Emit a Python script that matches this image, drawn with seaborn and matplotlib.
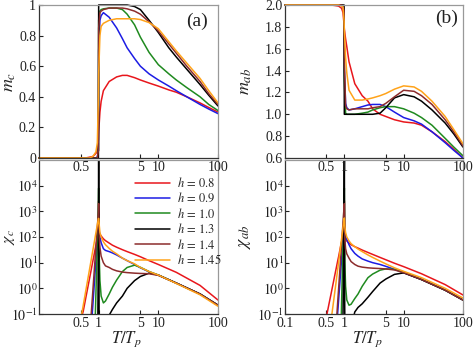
import matplotlib
matplotlib.use("Agg")
import matplotlib.pyplot as plt
from matplotlib.lines import Line2D
from matplotlib.ticker import NullLocator
import pandas as pd
import seaborn as sns

# ---------------- data ----------------
h_labels = ["0.8", "0.9", "1.0", "1.3", "1.4", "1.45"]
colors = ["#e8161c", "#1c1ce4", "#1f8a1f", "#000000", "#8c2c2c", "#ffa31a"]

# temperature grid for magnetisation panels (T/Tp)
T_m = [0.1, 0.5, 0.6, 0.7, 0.8, 0.9, 0.95, 0.99, 1.0, 1.05, 1.1, 1.2, 1.5, 2, 2.5,
       3, 4, 5, 7, 10, 15, 20, 30, 50, 70, 100]

mc_08 = [0, 0, 0, 0.005, 0.01, 0.03, 0.05, 0.12, 0.17, 0.30, 0.37, 0.44, 0.50, 0.53,
         0.54, 0.54, 0.525, 0.51, 0.49, 0.47, 0.445, 0.43, 0.40, 0.36, 0.33, 0.30]
mc_09 = [0, 0, 0, 0, 0, 0, 0.005, 0.05, 0.70, 0.90, 0.93, 0.95, 0.92, 0.85, 0.78,
         0.72, 0.65, 0.60, 0.55, 0.51, 0.47, 0.44, 0.40, 0.35, 0.32, 0.29]
mc_10 = [0, 0, 0, 0, 0, 0, 0, 0.05, 0.90, 0.96, 0.97, 0.975, 0.98, 0.98, 0.97,
         0.94, 0.87, 0.79, 0.69, 0.61, 0.55, 0.51, 0.46, 0.40, 0.35, 0.31]
mc_13 = [0, 0, 0, 0, 0, 0, 0, 0, 1.0, 1.0, 1.0, 1.0, 1.0, 1.0, 1.0,
         1.0, 0.99, 0.97, 0.90, 0.82, 0.72, 0.66, 0.58, 0.48, 0.41, 0.34]
mc_14 = [0, 0, 0, 0, 0, 0, 0, 0.05, 0.85, 0.95, 0.96, 0.97, 0.98, 0.98, 0.98,
         0.975, 0.96, 0.94, 0.89, 0.83, 0.745, 0.685, 0.60, 0.50, 0.42, 0.35]
mc_145 = [0, 0, 0, 0, 0.01, 0.04, 0.10, 0.40, 0.55, 0.80, 0.86, 0.88, 0.90, 0.91, 0.91,
          0.91, 0.91, 0.905, 0.885, 0.845, 0.76, 0.70, 0.62, 0.52, 0.44, 0.36]

mab_08 = [2.0, 2.0, 2.0, 1.995, 1.99, 1.97, 1.93, 1.82, 1.78, 1.69, 1.62, 1.48, 1.28,
          1.17, 1.12, 1.05, 1.0, 0.98, 0.95, 0.93, 0.92, 0.90, 0.84, 0.75, 0.68, 0.60]
mab_09 = [2.0, 2.0, 2.0, 2.0, 2.0, 2.0, 1.99, 1.95, 1.40, 1.10, 1.06, 1.04, 1.05,
          1.07, 1.085, 1.09, 1.09, 1.07, 1.02, 0.97, 0.94, 0.91, 0.84, 0.74, 0.67, 0.60]
mab_10 = [2.0, 2.0, 2.0, 2.0, 2.0, 2.0, 1.99, 1.95, 1.30, 1.01, 1.0, 1.0, 1.0,
          1.01, 1.02, 1.04, 1.06, 1.07, 1.07, 1.05, 1.01, 0.97, 0.90, 0.78, 0.70, 0.62]
mab_13 = [2.0, 2.0, 2.0, 2.0, 2.0, 2.0, 2.0, 2.0, 1.0, 1.0, 1.0, 1.0, 1.0,
          1.0, 1.0, 1.0, 1.01, 1.06, 1.15, 1.18, 1.16, 1.12, 1.04, 0.92, 0.82, 0.70]
mab_14 = [2.0, 2.0, 2.0, 2.0, 2.0, 2.0, 1.99, 1.95, 1.50, 1.08, 1.05, 1.04, 1.05,
          1.05, 1.05, 1.06, 1.07, 1.10, 1.16, 1.22, 1.21, 1.17, 1.09, 0.95, 0.84, 0.71]
mab_145 = [2.0, 2.0, 2.0, 2.0, 2.0, 1.99, 1.98, 1.85, 1.77, 1.52, 1.38, 1.22, 1.13,
           1.13, 1.14, 1.15, 1.17, 1.19, 1.23, 1.26, 1.25, 1.21, 1.12, 0.98, 0.86, 0.73]

# temperature grid for susceptibility panels
T_x = [0.1, 0.5, 0.52, 0.55, 0.6, 0.7, 0.75, 0.78, 0.8, 0.86, 0.88, 0.9, 0.95, 0.97,
       0.99, 1.0, 1.01, 1.02, 1.05, 1.1, 1.2, 1.3, 1.5, 1.7, 2, 2.5, 3, 4, 5, 7, 10,
       20, 50, 100]

xc_08 = [0.001, 0.05, 0.08, 0.125, 0.36, 2.3, 5.3, 8.6, 11.6, 28, 37, 48, 93, 120, 150,
         2500, 400, 150, 130, 110, 85, 72, 58, 48, 40, 32, 27, 21, 17, 12, 8.5, 4.2, 1.3, 0.35]
xc_09 = [0.001, 0.001, 0.001, 0.001, 0.001, 0.01, 0.04, 0.1, 0.23, 2.7, 5.7, 12, 75, 150,
         300, 400, 250, 180, 100, 60, 35, 30, 27, 24, 20, 15, 12, 8.5, 6.3, 4.4, 3.25,
         1.6, 0.6, 0.22]
xc_10 = [0.001, 0.001, 0.001, 0.001, 0.001, 0.001, 0.001, 0.001, 0.001, 0.05, 0.1, 0.66,
         62, 357, 2000, 8000, 200, 20, 2, 0.5, 0.27, 0.32, 0.6, 1.1, 2.1, 4.5, 6.5, 8,
         6.6, 4.5, 3.3, 1.6, 0.6, 0.22]
xc_13 = [0.001, 0.001, 0.001, 0.001, 0.001, 0.001, 0.001, 0.001, 0.001, 0.001, 0.001,
         0.001, 0.01, 0.1, 50, 1e6, 10, 0.01, 0.001, 0.001, 0.001, 0.02, 0.09, 0.15,
         0.27, 0.5, 1.0, 2.0, 2.9, 3.9, 3.3, 1.6, 0.6, 0.22]
xc_14 = [0.001, 0.001, 0.001, 0.001, 0.001, 0.02, 0.1, 0.36, 0.84, 9.2, 19.5, 41, 244,
         487, 950, 2000, 300, 100, 40, 18, 10, 7.5, 6.5, 5.5, 4.8, 4.3, 4.1, 3.9, 3.8,
         3.7, 3.2, 1.6, 0.6, 0.22]
xc_145 = [0.001, 0.07, 0.1, 0.21, 0.67, 5.2, 13, 22, 31, 80, 110, 148, 302, 398, 523,
          530, 400, 300, 150, 100, 65, 50, 36, 28, 22, 15, 12, 9, 6.5, 4.5, 3.3, 1.55,
          0.56, 0.2]

xab_08 = [0.001, 0.08, 0.125, 0.24, 0.64, 3.8, 8.3, 13, 17, 40, 52, 67, 125, 158, 200,
          2600, 300, 120, 85, 70, 58, 50, 42, 37, 31, 25, 21, 16, 13, 9.5, 7, 3.7, 1.4, 0.55]
xab_09 = [0.001, 0.001, 0.001, 0.001, 0.001, 0.01, 0.045, 0.15, 0.34, 3.4, 7, 14, 80,
          154, 300, 350, 150, 110, 105, 80, 50, 35, 23, 18, 14, 11.5, 10, 8.5, 7.2, 5.5,
          4.1, 2.2, 0.85, 0.35]
xab_10 = [0.001, 0.001, 0.001, 0.001, 0.001, 0.001, 0.001, 0.001, 0.001, 0.001, 0.03,
          0.29, 55, 414, 3000, 8000, 100, 10, 1.2, 0.35, 0.22, 0.24, 0.4, 0.6, 1.2, 2.6,
          3.6, 5.1, 5.7, 5.5, 4.2, 2.2, 0.85, 0.35]
xab_13 = [0.001, 0.001, 0.001, 0.001, 0.001, 0.001, 0.001, 0.001, 0.001, 0.001, 0.001,
          0.001, 0.1, 5, 500, 1e6, 5, 0.01, 0.001, 0.001, 0.001, 0.03, 0.12, 0.18, 0.25,
          0.45, 0.75, 1.6, 2.3, 3.5, 4.0, 2.2, 0.85, 0.35]
xab_14 = [0.001, 0.001, 0.001, 0.001, 0.001, 0.01, 0.1, 0.39, 0.93, 11.4, 25, 55, 357,
          734, 1500, 2000, 200, 80, 35, 22, 15, 11, 8.5, 7.3, 6.7, 6.3, 6.1, 5.9, 5.7,
          5.2, 4.1, 2.2, 0.85, 0.35]
xab_145 = [0.001, 0.001, 0.01, 0.02, 0.06, 0.91, 3.2, 6.5, 10, 39, 59, 88, 236, 345,
           500, 550, 350, 250, 150, 100, 70, 55, 42, 34, 27, 20, 16, 11.5, 9, 6.3, 4.6,
           2.6, 1.0, 0.42]

x_ticks = [0.5, 1, 5, 10, 100]
x_ticks_d = [0.1, 0.5, 1, 5, 10, 100]
ya_ticks = [0, 0.2, 0.4, 0.6, 0.8, 1.0]
yb_ticks = [0.6, 0.8, 1.0, 1.2, 1.4, 1.6, 1.8, 2.0]
ychi_ticks = [0.1, 1, 10, 100, 1000, 10000]

# ---------------- style ----------------
sns.set_theme(style="white")
plt.rcParams["font.family"] = ["Liberation Serif", "DejaVu Serif"]
plt.rcParams["mathtext.fontset"] = "stix"

W, H = 474, 349
fig = plt.figure(figsize=(W / 100, H / 100), dpi=100)


def add_ax(l, t, r, b):
    return fig.add_axes([l / W, 1 - b / H, (r - l) / W, (b - t) / H])


ax_a = add_ax(39, 5, 218, 158)
ax_b = add_ax(285, 5, 463, 158)
ax_c = add_ax(39, 160, 218, 314)
ax_d = add_ax(285, 160, 463, 314)
ax_a.set_zorder(3)
ax_b.set_zorder(3)


def draw(ax, T, series, logy, clip=True):
    frames = [pd.DataFrame({"T": T, "v": vals, "h": lab})
              for lab, vals in zip(h_labels, series)]
    df = pd.concat(frames, ignore_index=True)
    sns.lineplot(data=df, x="T", y="v", hue="h", hue_order=h_labels,
                 palette=colors, estimator=None, sort=False, legend=False,
                 ax=ax, linewidth=1.1)
    ax.set_xscale("log")
    if logy:
        ax.set_yscale("log")
    if not clip:
        for ln in ax.lines:
            ln.set_clip_on(False)


draw(ax_a, T_m, [mc_08, mc_09, mc_10, mc_13, mc_14, mc_145], False, clip=False)
draw(ax_b, T_m, [mab_08, mab_09, mab_10, mab_13, mab_14, mab_145], False, clip=False)
draw(ax_c, T_x, [xc_08, xc_09, xc_10, xc_13, xc_14, xc_145], True)
draw(ax_d, T_x, [xab_08, xab_09, xab_10, xab_13, xab_14, xab_145], True)


def fmt(v):
    return "%g" % v


for ax in (ax_a, ax_b, ax_c, ax_d):
    ax.set_xlim(0.1, 100)
    ax.xaxis.set_minor_locator(NullLocator())
    ax.yaxis.set_minor_locator(NullLocator())
    ax.tick_params(direction="in", length=3, width=0.8, labelsize=10, pad=2,
                   colors="#222222", bottom=True, left=True)
    ax.set_xlabel("")
    ax.set_ylabel("")
    ax.set_facecolor("white")
    for s in ("left", "bottom"):
        ax.spines[s].set_color("#333333")
        ax.spines[s].set_linewidth(0.9)
    for s in ("top", "right"):
        ax.spines[s].set_color("#999999")
        ax.spines[s].set_linewidth(0.9)

ax_a.set_xticks([0.5, 5, 10, 100], ["0.5", "5", "10", "100"])
ax_b.set_xticks(x_ticks, [fmt(v) for v in x_ticks])
ax_c.set_xticks(x_ticks, [fmt(v) for v in x_ticks])
ax_d.set_xticks(x_ticks_d, [fmt(v) for v in x_ticks_d])

ax_a.set_ylim(0, 1)
ax_a.set_yticks(ya_ticks, [fmt(v) for v in ya_ticks])
ax_b.set_ylim(0.6, 2.0)
ax_b.set_yticks(yb_ticks, ["%.1f" % v for v in yb_ticks])
chi_labels = [r"$10^{-1}$", r"$10^{0}$", r"$10^{1}$", r"$10^{2}$", r"$10^{3}$", r"$10^{4}$"]
for ax in (ax_c, ax_d):
    ax.set_ylim(0.1, 1e5)
    ax.set_yticks(ychi_ticks, chi_labels)
    ax.tick_params(axis="y", pad=1)

lab_kw = dict(fontsize=13, color="#222222")
ax_a.set_ylabel(r"$m_c$", **lab_kw)
ax_a.yaxis.set_label_coords(-0.115, 0.5)
ax_b.set_ylabel(r"$m_{ab}$", **lab_kw)
ax_b.yaxis.set_label_coords(-0.175, 0.5)
ax_c.set_ylabel(r"$\chi_c$", fontsize=11.5, color="#222222")
ax_c.yaxis.set_label_coords(-0.125, 0.5)
ax_d.set_ylabel(r"$\chi_{ab}$", **lab_kw)
ax_d.yaxis.set_label_coords(-0.178, 0.5)
ax_c.set_xlabel(r"$T/T_p$", fontsize=12, color="#222222")
ax_c.xaxis.set_label_coords(0.49, -0.097)
ax_d.set_xlabel(r"$T/T_p$", fontsize=12, color="#222222")
ax_d.xaxis.set_label_coords(0.46, -0.097)

ax_a.text(0.885, 0.89, "(a)", transform=ax_a.transAxes, ha="center", va="center",
          fontsize=14, color="#222222")
ax_b.text(0.91, 0.915, "(b)", transform=ax_b.transAxes, ha="center", va="center",
          fontsize=14, color="#222222")

handles = [Line2D([], [], color=c, lw=1.1) for c in colors]
labels = [r"$h\,=\,%s$" % h for h in h_labels]
ax_c.legend(handles, labels, loc="upper left", bbox_to_anchor=(0.49, 0.95),
            frameon=False, fontsize=9, handlelength=2.8, labelspacing=0.12,
            handletextpad=0.5, borderpad=0.2)

fig.savefig("out.png", dpi=100)
